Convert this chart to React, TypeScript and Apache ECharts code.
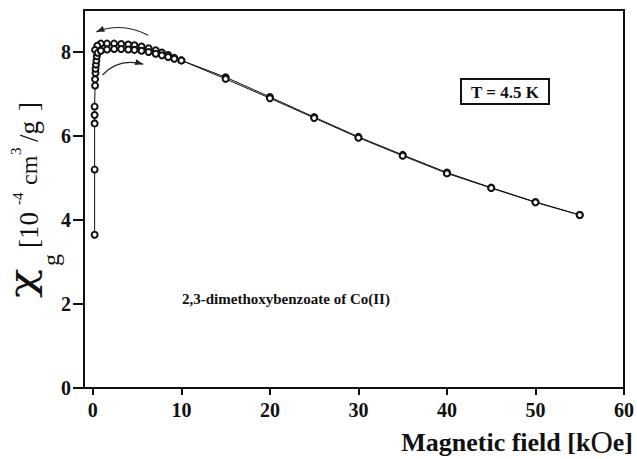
import React, { useEffect, useRef } from "react";
import * as echarts from "echarts";

// Decreasing-field branch (upper row, 55 kOe -> 0)
const downField = [55, 50, 45, 40, 35, 30, 25, 20, 15, 10, 9.2, 8.5, 7.8, 7.1, 6.3, 5.5, 4.7, 4.0, 3.2, 2.4, 1.6, 0.9, 0.5, 0.25];
const downChi = [4.12, 4.43, 4.77, 5.13, 5.55, 5.98, 6.45, 6.93, 7.4, 7.8, 7.86, 7.93, 7.99, 8.04, 8.09, 8.13, 8.16, 8.18, 8.19, 8.2, 8.2, 8.2, 8.15, 8.05];

// Increasing-field branch (virgin curve, 0 -> 55 kOe)
const upField = [0.2, 0.2, 0.2, 0.2, 0.2, 0.25, 0.25, 0.3, 0.3, 0.35, 0.4, 0.45, 0.55, 0.9, 1.6, 2.4, 3.2, 4.0, 4.7, 5.5, 6.3, 7.1, 7.8, 8.5, 9.2, 10, 15, 20, 25, 30, 35, 40, 45, 50, 55];
const upChi = [3.65, 5.2, 6.3, 6.5, 6.7, 7.2, 7.35, 7.5, 7.6, 7.7, 7.8, 7.9, 7.98, 8.03, 8.06, 8.07, 8.07, 8.06, 8.05, 8.03, 8.0, 7.96, 7.92, 7.88, 7.84, 7.8, 7.36, 6.9, 6.43, 5.96, 5.53, 5.11, 4.76, 4.42, 4.12];

const xTicks = [0, 10, 20, 30, 40, 50, 60];
const yTicks = [0, 2, 4, 6, 8];

// Sweep-direction arrows (data coordinates): start, control, end
const arrowDown = [[6.26, 8.4], [3.3, 8.72], [0.4, 8.48]];
const arrowUp = [[1.07, 7.45], [2.9, 7.87], [5.69, 7.71]];

const SERIF = '"Liberation Serif", "Times New Roman", serif';

export default function App() {
  const ref = useRef<HTMLDivElement>(null);
  useEffect(() => {
    if (!ref.current) return;
    const chart = echarts.init(ref.current, null, { renderer: "svg" });
    const pair = (xs: number[], ys: number[]) => xs.map((x, i) => [x, ys[i]]);
    const lineSeries = (name: string, data: number[][]) => ({
      name,
      type: "line",
      data,
      symbol: "emptyCircle",
      symbolSize: 6,
      showSymbol: true,
      showAllSymbol: true,
      itemStyle: { color: "#111", borderWidth: 1 },
      lineStyle: { color: "#111", width: 1 },
      z: 3,
    });

    const txt = (x: number, y: number, text: string, font: string, extra: any = {}) => ({
      type: "text",
      x,
      y,
      ...extra,
      style: { text, font, fill: "#111", align: "left", verticalAlign: "middle" },
    });

    const baseGraphic: any[] = [
      {
        type: "text",
        right: 4,
        top: 427,
        style: {
          text: "Magnetic field [k{o|O}e]",
          font: `bold 26px ${SERIF}`,
          fill: "#111",
          rich: { o: { font: `normal 31px ${SERIF}`, fill: "#111" } },
        },
      },
      {
        type: "group",
        left: 460,
        top: 78,
        children: [
          { type: "rect", shape: { x: 0, y: 0, width: 88, height: 25 }, style: { fill: "#fff", stroke: "#111", lineWidth: 2 } },
          { type: "text", x: 44, y: 13, style: { text: "T = 4.5 K", font: `bold 17px ${SERIF}`, fill: "#111", align: "center", verticalAlign: "middle" } },
        ],
      },
      {
        type: "text",
        left: 182,
        top: 291,
        style: { text: "2,3-dimethoxybenzoate of Co(II)", font: `bold 15px ${SERIF}`, fill: "#111" },
      },
      {
        type: "group",
        x: 29,
        y: 300,
        rotation: Math.PI / 2,
        children: [
          txt(2, -7, "χ", `normal 36px "DejaVu Serif", serif`, { scaleX: 1.35 }),
          txt(34, 22, "g", `normal 24px ${SERIF}`),
          txt(52, 0, "[10", `normal 27px ${SERIF}`),
          txt(95, -11, "-4", `normal 15px ${SERIF}`),
          txt(115, 0, "cm", `normal 24px ${SERIF}`),
          txt(145, -13, "3", `normal 15px ${SERIF}`),
          txt(158, 0, "/g", `normal 27px ${SERIF}`),
          txt(189, 0, "]", `normal 27px ${SERIF}`),
        ],
      },
    ];

    chart.setOption({
      animation: false,
      backgroundColor: "#fff",
      grid: { left: 84, right: 12, top: 10, bottom: 71, show: true, borderColor: "#111", borderWidth: 2, backgroundColor: "transparent" },
      xAxis: {
        type: "value",
        position: "bottom",
        min: -1,
        max: 60,
        splitLine: { show: false },
        axisLine: { show: true, onZero: false, lineStyle: { color: "#111", width: 2 } },
        axisTick: { show: true, length: 7, lineStyle: { color: "#111", width: 2 }, customValues: xTicks },
        axisLabel: { color: "#111", fontFamily: SERIF, fontWeight: "bold", fontSize: 20, margin: 12, customValues: xTicks },
      },
      yAxis: {
        type: "value",
        position: "left",
        min: 0,
        max: 9,
        splitLine: { show: false },
        axisLine: { show: true, onZero: false, lineStyle: { color: "#111", width: 2 } },
        axisTick: { show: true, inside: false, length: 11, lineStyle: { color: "#111", width: 2 }, customValues: yTicks },
        axisLabel: {
          show: true,
          inside: false,
          color: "#111",
          fontFamily: SERIF,
          fontWeight: "bold",
          fontSize: 20,
          margin: 13,
          customValues: yTicks,
        },
      },
      series: [lineSeries("down", pair(downField, downChi)), lineSeries("up", pair(upField, upChi))],
      graphic: baseGraphic,
    });

    const arrow = (pts: number[][]) => {
      const [s, c, e] = pts.map((p) => chart.convertToPixel({ gridIndex: 0 }, p) as number[]);
      const ang = Math.atan2(e[1] - c[1], e[0] - c[0]);
      const L = 8, W = 3;
      const bx = e[0] - L * Math.cos(ang), by = e[1] - L * Math.sin(ang);
      const nx = -Math.sin(ang) * W, ny = Math.cos(ang) * W;
      return [
        { type: "bezierCurve", shape: { x1: s[0], y1: s[1], cpx1: c[0], cpy1: c[1], x2: e[0], y2: e[1] }, style: { stroke: "#222", lineWidth: 1.2, fill: null }, z: 10 },
        { type: "polygon", shape: { points: [[e[0], e[1]], [bx + nx, by + ny], [bx - nx, by - ny]] }, style: { fill: "#222" }, z: 10 },
      ];
    };
    chart.setOption({ graphic: [...baseGraphic, ...arrow(arrowDown), ...arrow(arrowUp)] });

    return () => chart.dispose();
  }, []);
  return <div ref={ref} style={{ width: 637, height: 459, position: "fixed", left: 0, top: 0 }} />;
}
